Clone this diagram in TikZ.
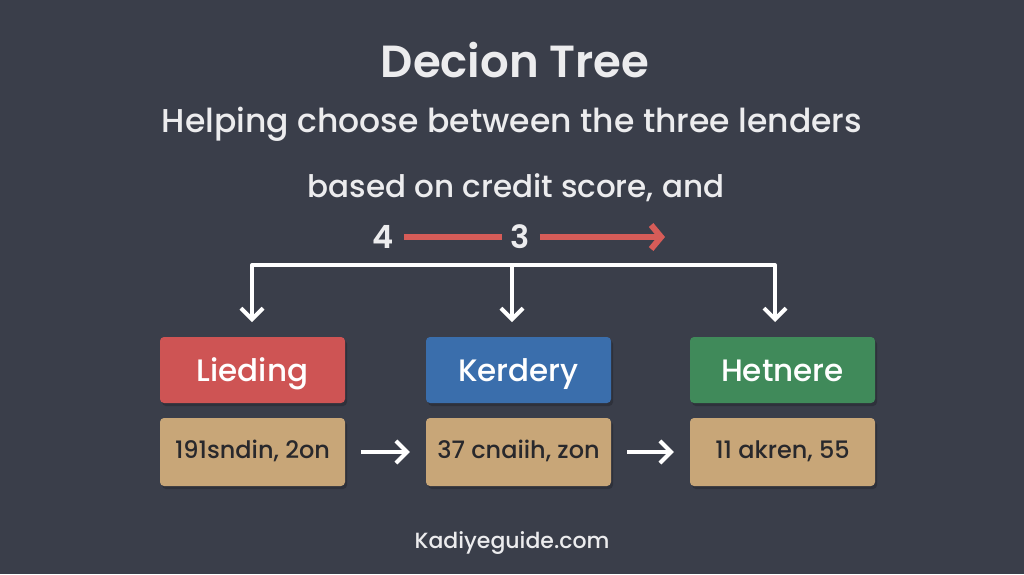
\documentclass[tikz,border=0pt]{standalone}
\usepackage{fontspec}
\setmainfont{Poppins}[UprightFont=* Medium, BoldFont=* SemiBold]
\usetikzlibrary{arrows.meta}
\definecolor{bgc}{RGB}{58,62,74}
\definecolor{shc}{RGB}{46,49,59}
\definecolor{txtc}{RGB}{236,236,238}
\definecolor{redc}{RGB}{206,84,84}
\definecolor{bluec}{RGB}{58,110,172}
\definecolor{greenc}{RGB}{64,138,90}
\definecolor{tanc}{RGB}{200,166,120}
\definecolor{arrred}{RGB}{214,92,88}
\definecolor{darktxt}{RGB}{40,40,44}
\tikzset{
  boxshadow/.style={preaction={fill=shc, transform canvas={xshift=2pt,yshift=-3pt}}},
  hdrbox/.style={boxshadow, rounded corners=4pt, minimum width=185pt, minimum height=66pt, text=white, font=\fontsize{31}{31}\selectfont, text height=30pt, text depth=7pt, inner sep=0pt},
  valbox/.style={boxshadow, rounded corners=4pt, fill=tanc, minimum width=185pt, minimum height=68pt, text=darktxt, font=\fontsize{24}{24}\selectfont, text height=17pt, text depth=5pt, inner sep=0pt},
  wline/.style={draw=white, line width=4pt},
  warr/.style={draw=white, line width=4pt, -{Straight Barb[length=11pt,width=22pt,line width=4pt]}},
  rline/.style={draw=arrred, line width=6pt},
}
\begin{document}
\begin{tikzpicture}[x=1pt,y=-1pt]
\fill[bgc] (0,0) rectangle (1024,574);
\useasboundingbox (0,0) rectangle (1024,574);
\node[text=txtc, font=\bfseries\fontsize{45}{45}\selectfont] (title) at (515,60) {Decion Tree};
\node[text=txtc, font=\fontsize{33}{33}\selectfont] (sub1) at (512,124) {Helping choose between the three lenders};
\node[text=txtc, font=\fontsize{31}{31}\selectfont] (sub2) at (516,188) {based on credit score, and};
\node[text=txtc, font=\bfseries\fontsize{32}{32}\selectfont, inner sep=2pt] (n4) at (383,237) {4};
\node[text=txtc, font=\bfseries\fontsize{32}{32}\selectfont, inner sep=2pt] (n3) at (520,237) {3};
\coordinate (rend) at (665,237);
\draw[rline] ([xshift=8pt]n4.east) -- ([xshift=-6pt]n3.west);
\draw[rline, -{Straight Barb[length=10pt,width=24pt,line width=6pt]}] ([xshift=8pt]n3.east) -- (rend);
% bracket
\coordinate (bl) at (252,265);
\coordinate (bm) at (512,265);
\coordinate (br) at (775,265);
\draw[wline, line cap=round] (bl) -- (br);
\node[hdrbox, fill=redc] (h1) at (252.5,370) {Lieding};
\node[hdrbox, fill=bluec] (h2) at (518.5,370) {Kerdery};
\node[hdrbox, fill=greenc] (h3) at (782.5,370) {Hetnere};
\coordinate (e1) at (252,322);
\coordinate (e2) at (512,322);
\coordinate (e3) at (775,322);
\draw[warr] (bl) -- (e1);
\draw[warr] (bm) -- (e2);
\draw[warr] (br) -- (e3);
\node[valbox] (v1) at (252.5,452) {191sndin, 2on};
\node[valbox] (v2) at (518.5,452) {37 cnaiih, zon};
\node[valbox] (v3) at (782.5,452) {11 akren, 55};
\draw[warr] ([xshift=16pt]v1.east) -- ([xshift=-16pt]v2.west);
\draw[warr] ([xshift=16pt]v2.east) -- ([xshift=-16pt]v3.west);
\node[text=txtc, font=\fontsize{22}{22}\selectfont] (foot) at (512,543) {Kadiyeguide.com};
\end{tikzpicture}
\end{document}
